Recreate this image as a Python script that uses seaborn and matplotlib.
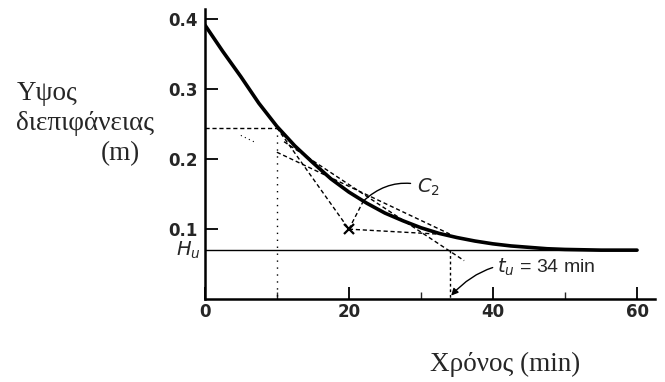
import matplotlib
matplotlib.use('Agg')
import matplotlib.pyplot as plt
import seaborn as sns
import pandas as pd

# --------------
# Data
# --------------
# settling curve: interface height (m) vs time (min)
time_min = [0, 2.5, 5, 7.5, 10, 12.5, 15, 17.5, 20, 22.5, 25, 27.5, 30,
            32.5, 35, 37.5, 40, 42.5, 45, 47.5, 50, 55, 60]
height_m = [0.392, 0.354, 0.318, 0.280, 0.247, 0.219, 0.195, 0.172, 0.153,
            0.137, 0.123, 0.112, 0.102, 0.094, 0.088, 0.083, 0.079, 0.076,
            0.074, 0.072, 0.071, 0.070, 0.070]

h_u = 0.07          # ultimate height H_u
t_u = 34            # t_u = 34 min
c2_point = (22, 0.14)
x_point = (20, 0.10)

# construction lines (x pair, y pair)
horiz_x, horiz_y = [0, 10], [0.245, 0.245]
vert10_x, vert10_y = [10, 10], [0.245, 0]
to_x_x, to_x_y = [10, 20], [0.245, 0.10]
tang_x, tang_y = [11, 36], [0.225, 0.055]
low_x, low_y = [10, 34], [0.21, 0.093]
from_x_x, from_x_y = [20, 34], [0.10, 0.092]
x_c2_x, x_c2_y = [20, 22], [0.10, 0.14]
vert_tu_x, vert_tu_y = [34, 34], [0.07, 0]
faint_x, faint_y = [5, 7], [0.234, 0.224]

# --------------
# Plot
# --------------
sns.set_style('ticks')
plt.rcParams['font.family'] = ['Liberation Sans', 'DejaVu Sans']

fig = plt.figure(figsize=(6.65, 3.82), dpi=100)
ax = fig.add_axes([0.308, 0.217, 0.677, 0.760])

df = pd.DataFrame({'t': time_min, 'h': height_m})
sns.lineplot(data=df, x='t', y='h', ax=ax, color='black', linewidth=2.6)

ax.plot([0, 60], [h_u, h_u], color='black', linewidth=1.0)

dash = dict(color='black', linewidth=1.0, linestyle=(0, (3, 2)))
dot = dict(color='black', linewidth=1.0, linestyle=(0, (1, 4)))
ax.plot(horiz_x, horiz_y, **dash)
ax.plot(vert10_x, vert10_y, **dot)
ax.plot(to_x_x, to_x_y, **dash)
ax.plot(tang_x, tang_y, **dash)
ax.plot(low_x, low_y, **dash)
ax.plot(from_x_x, from_x_y, **dash)
ax.plot(x_c2_x, x_c2_y, **dash)
ax.plot(vert_tu_x, vert_tu_y, color='black', linewidth=1.0, linestyle=(0, (2, 2)))
ax.plot(faint_x, faint_y, color='black', linewidth=0.8, linestyle=(0, (1, 3)))
ax.plot([x_point[0]], [x_point[1]], marker='x', color='black', markersize=7, mew=1.6)

# annotations
ax.annotate('$C_2$', xy=c2_point, xytext=(29.4, 0.16), fontsize=14,
            ha='left', va='center',
            arrowprops=dict(arrowstyle='-', color='black', lw=1.0,
                            connectionstyle='arc3,rad=0.3', shrinkA=2, shrinkB=0))
ax.annotate('$t_u$ = 34 min', xy=(t_u + 0.2, 0.005), xytext=(40.6, 0.046),
            fontsize=14, ha='left', va='center',
            arrowprops=dict(arrowstyle='-|>', color='black', lw=1.0,
                            connectionstyle='arc3,rad=0.3', shrinkA=1, shrinkB=0,
                            mutation_scale=10))

ax.text(-0.6, h_u, '$H_u$', fontsize=14, ha='right', va='center')

# axes
ax.set_xlim(0, 62.5)
ax.set_ylim(0, 0.415)
ax.set_xticks([0, 20, 40, 60])
ax.set_xticks([10, 30, 50], minor=True)
ax.set_yticks([0.1, 0.2, 0.3, 0.4])
tick_font = dict(fontweight='bold', fontsize=12, family='DejaVu Sans')
ax.set_xticklabels(['0', '20', '40', '60'], **tick_font)
ax.set_yticklabels(['0.1', '0.2', '0.3', '0.4'], **tick_font)
ax.tick_params(axis='both', which='major', direction='in', length=9, width=1.3,
               color='black', pad=5)
ax.tick_params(axis='x', which='minor', direction='in', length=5, width=1.0)
ax.tick_params(axis='x', pad=3)
ax.set_xlabel('')
ax.set_ylabel('')
for side in ['top', 'right']:
    ax.spines[side].set_visible(False)
for side in ['left', 'bottom']:
    ax.spines[side].set_linewidth(1.8)
    ax.spines[side].set_color('black')

serif = ['Liberation Serif', 'DejaVu Serif']
fig.text(17 / 665, 1 - 94 / 382, 'Υψος', fontsize=19.5, family=serif, ha='left', va='center')
fig.text(16 / 665, 1 - 124 / 382, 'διεπιφάνειας', fontsize=19.5, family=serif, ha='left', va='center')
fig.text(101 / 665, 1 - 154 / 382, '(m)', fontsize=19.5, family=serif, ha='left', va='center')
fig.text(505 / 665, 1 - 364 / 382, 'Χρόνος (min)', fontsize=19.5, family=serif, ha='center', va='center')

plt.savefig('out.png', dpi=100)
plt.close()
